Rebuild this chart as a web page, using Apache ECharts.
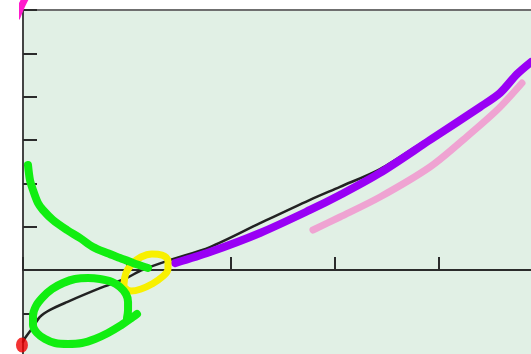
<!DOCTYPE html>
<html>
<head>
<meta charset="utf-8">
<script src="https://cdn.jsdelivr.net/npm/echarts@6/dist/echarts.min.js"></script>
<style>
    html, body { margin: 0; padding: 0; background: #fff; }
    #chart { width: 531px; height: 354px; }
</style>
</head>
<body>
<div id="chart"></div>
<script>
// the printed curve
const curvePts = [
    [0, -1.66], [0.02, -1.57], [0.096, -1.32], [0.163, -1.08], [0.26, -0.92],
    [0.423, -0.74], [0.74, -0.42], [1.0, -0.18], [1.144, 0], [1.413, 0.23],
    [1.798, 0.53], [2.279, 1.08], [2.76, 1.62], [3.048, 1.92], [3.433, 2.33],
    [3.913, 3.05], [4.394, 3.72], [4.615, 4.2], [4.885, 4.85]
];
// hand drawn strokes on top
const purplePts = [
    [1.462, 0.16], [1.798, 0.415], [2.279, 0.854], [2.76, 1.385], [3.048, 1.73],
    [3.433, 2.24], [3.913, 3.0], [4.394, 3.76], [4.587, 4.085], [4.75, 4.52], [4.885, 4.8]
];
const pinkPts = [
    [2.788, 0.923], [3.048, 1.223], [3.433, 1.685], [3.913, 2.377],
    [4.231, 3.0], [4.558, 3.69], [4.798, 4.315]
];
const greenTailPts = [
    [0.048, 2.423], [0.067, 2.077], [0.096, 1.846], [0.144, 1.546], [0.192, 1.385],
    [0.288, 1.154], [0.423, 0.923], [0.548, 0.738], [0.673, 0.531], [0.808, 0.392],
    [0.933, 0.277], [1.058, 0.162], [1.202, 0.046]
];
const greenLoopPts = [
    [1.0, -1.108], [1.01, -0.923], [1.01, -0.738], [0.99, -0.554], [0.933, -0.392],
    [0.856, -0.277], [0.74, -0.208], [0.625, -0.185], [0.5, -0.208], [0.385, -0.3],
    [0.279, -0.438], [0.192, -0.623], [0.125, -0.831], [0.096, -1.062], [0.096, -1.269],
    [0.135, -1.454], [0.212, -1.592], [0.308, -1.685], [0.433, -1.708], [0.567, -1.685],
    [0.692, -1.592], [0.817, -1.454], [0.933, -1.292], [1.029, -1.131], [1.096, -1.015]
];
const yellowPts = [
    [0.971, -0.323], [0.99, -0.069], [1.048, 0.138], [1.135, 0.3], [1.24, 0.369],
    [1.337, 0.346], [1.394, 0.208], [1.394, 0.023], [1.337, -0.162], [1.24, -0.323],
    [1.135, -0.438], [1.038, -0.485], [0.981, -0.415], [0.971, -0.323]
];
const magentaPts = [[-0.058, 5.838], [-0.019, 6.069], [0.019, 6.254]];
const redDot = [[-0.01, -1.73]];

function stroke(data, color, width, z, smooth) {
    return {
        type: 'line',
        data: data,
        showSymbol: false,
        smooth: smooth,
        clip: false,
        z: z,
        silent: true,
        lineStyle: { color: color, width: width, cap: 'round', join: 'round' }
    };
}

let chart = echarts.init(document.getElementById('chart'));
let option = {
    animation: false,
    grid: {
        show: true,
        left: 23,
        top: 10,
        width: 520,
        height: 346.67,
        backgroundColor: '#e1f0e5',
        borderColor: '#6f6f6f',
        borderWidth: 2,
        outerBoundsMode: 'none',
        containLabel: false
    },
    xAxis: {
        type: 'value',
        min: 0,
        max: 5,
        interval: 1,
        axisLine: { onZero: true, lineStyle: { color: '#2b2b2b', width: 2 } },
        axisTick: { show: true, inside: true, length: 13, lineStyle: { color: '#2b2b2b', width: 2 } },
        axisLabel: { show: false },
        splitLine: { show: false }
    },
    yAxis: {
        type: 'value',
        min: -2,
        max: 6,
        interval: 1,
        axisLine: { show: true, onZero: true, lineStyle: { color: '#444', width: 2 } },
        axisTick: { show: true, inside: true, length: 14, lineStyle: { color: '#2b2b2b', width: 2 } },
        axisLabel: { show: false },
        splitLine: { show: false }
    },
    series: [
        stroke(curvePts, '#222', 2.5, 2, 0.3),
        stroke(pinkPts, '#efa3d2', 7, 3, 0.3),
        stroke(purplePts, '#9900f5', 8, 4, 0.3),
        stroke(yellowPts, '#f8f000', 7, 5, 0.4),
        stroke(greenTailPts, '#11ee11', 8, 6, 0.3),
        stroke(greenLoopPts, '#11ee11', 8, 6, 0.3),
        stroke(magentaPts, '#ff1acc', 7, 7, 0.3),
        {
            type: 'scatter',
            data: redDot,
            symbol: 'circle',
            symbolSize: [12, 15],
            clip: false,
            z: 8,
            itemStyle: { color: '#f00000' }
        }
    ]
};
chart.setOption(option);
window.addEventListener('resize', function() {
    chart.resize();
});
</script>
</body>
</html>
